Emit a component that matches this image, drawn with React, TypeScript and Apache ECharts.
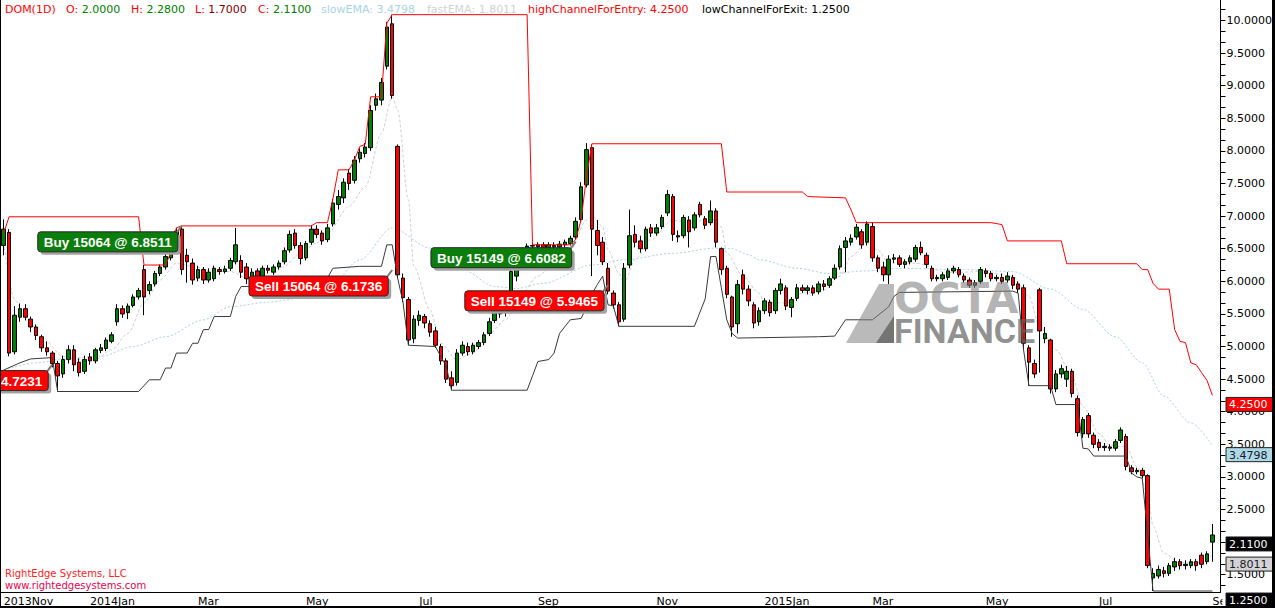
import React, { useEffect, useRef } from 'react';
import * as echarts from 'echarts';

const FONT = "'DejaVu Sans', Verdana, sans-serif";

// x axis: one category = two trading days
const slotCount = 226;
const monthLabels = ['2013Nov', '2014Jan', 'Mar', 'May', 'Jul', 'Sep', 'Nov', '2015Jan', 'Mar', 'May', 'Jul', 'Sep'];
const monthIndex = [0, 16, 36, 56, 77, 99, 121, 141, 161, 182, 203, 224];

// y axis tick marks (every 0.5, three steps each) and visible tick labels (2.0000 is hidden behind the close tag)
const yTickLabels = [1.5, 2, 2.5, 3, 3.5, 4, 4.5, 5, 5.5, 6, 6.5, 7, 7.5, 8, 8.5, 9, 9.5, 10];
const yHiddenLabels = [2];

// candles: [open, close, low, high]
const candles: number[][] = [
  [6.55, 6.80, 6.40, 6.95], [6.75, 4.90, 4.85, 6.80], [4.92, 5.48, 4.88, 5.62], [5.45, 5.58, 5.38, 5.66],
  [5.58, 5.45, 5.40, 5.65], [5.42, 5.30, 5.22, 5.46], [5.30, 5.17, 5.10, 5.34], [5.15, 4.98, 4.92, 5.18],
  [4.98, 4.92, 4.86, 5.08], [4.90, 4.74, 4.68, 4.93], [4.74, 4.55, 4.31, 4.78], [4.58, 4.80, 4.52, 4.86],
  [4.80, 4.95, 4.74, 5.02], [4.95, 4.72, 4.62, 5.02], [4.76, 4.60, 4.54, 4.82], [4.62, 4.80, 4.58, 4.86],
  [4.84, 4.78, 4.72, 4.90], [4.78, 4.95, 4.74, 4.98], [4.94, 4.98, 4.90, 5.04], [4.97, 5.10, 4.93, 5.14],
  [5.08, 5.18, 5.05, 5.22], [5.38, 5.58, 5.32, 5.65], [5.58, 5.50, 5.44, 5.63], [5.52, 5.62, 5.42, 5.66],
  [5.63, 5.76, 5.60, 5.80], [5.76, 5.86, 5.72, 5.90], [6.18, 5.76, 5.48, 6.25], [5.86, 5.95, 5.80, 6.00],
  [5.96, 6.12, 5.92, 6.16], [6.12, 6.22, 6.08, 6.26], [6.22, 6.38, 6.18, 6.42], [6.36, 6.50, 6.32, 6.55],
  [6.52, 6.77, 6.48, 6.82], [6.80, 6.18, 6.10, 6.85], [6.40, 6.30, 5.98, 6.50], [6.28, 6.02, 5.95, 6.35],
  [6.05, 6.18, 6.00, 6.24], [6.18, 6.02, 5.96, 6.22], [6.02, 6.14, 5.98, 6.20], [6.04, 6.20, 6.00, 6.24],
  [6.18, 6.15, 6.10, 6.22], [6.15, 6.19, 6.12, 6.24], [6.20, 6.32, 6.16, 6.36], [6.30, 6.56, 6.26, 6.82],
  [6.32, 6.14, 6.05, 6.40], [6.22, 6.04, 5.96, 6.28], [6.04, 6.14, 5.98, 6.20], [6.16, 6.06, 6.00, 6.20],
  [6.08, 6.20, 6.04, 6.24], [6.20, 6.17, 6.12, 6.25], [6.14, 6.22, 6.10, 6.26], [6.22, 6.28, 6.18, 6.32],
  [6.30, 6.47, 6.26, 6.52], [6.48, 6.72, 6.44, 6.78], [6.74, 6.55, 6.50, 6.80], [6.55, 6.35, 6.26, 6.60],
  [6.36, 6.58, 6.32, 6.62], [6.60, 6.80, 6.56, 6.86], [6.80, 6.72, 6.66, 6.86], [6.74, 6.62, 6.56, 6.78],
  [6.64, 6.82, 6.60, 6.88], [6.88, 7.20, 6.84, 7.26], [7.18, 7.30, 7.10, 7.40], [7.28, 7.52, 7.20, 7.58],
  [7.66, 7.50, 7.40, 7.72], [7.55, 7.86, 7.50, 7.92], [7.88, 7.98, 7.82, 8.04], [7.96, 8.06, 7.90, 8.12],
  [8.05, 8.62, 8.00, 8.70], [8.70, 8.80, 8.62, 8.88], [8.78, 9.05, 8.70, 9.12], [9.30, 9.90, 9.25, 9.98],
  [9.95, 8.85, 8.80, 10.09], [8.07, 6.10, 6.05, 8.10], [6.05, 5.75, 5.68, 6.12], [5.72, 5.10, 5.02, 5.76],
  [5.12, 5.42, 5.05, 5.48], [5.40, 5.48, 5.32, 5.55], [5.46, 5.36, 5.28, 5.50], [5.35, 5.22, 5.15, 5.40],
  [5.24, 5.02, 4.98, 5.30], [5.00, 4.78, 4.72, 5.04], [4.78, 4.50, 4.44, 4.82], [4.52, 4.40, 4.33, 4.62],
  [4.45, 4.90, 4.40, 4.96], [4.90, 5.02, 4.86, 5.08], [5.00, 4.92, 4.86, 5.06], [4.92, 5.02, 4.88, 5.06],
  [5.00, 5.06, 4.96, 5.10], [5.06, 5.18, 5.02, 5.22], [5.20, 5.38, 5.16, 5.44], [5.40, 5.54, 5.36, 5.60],
  [5.58, 5.50, 5.44, 5.62], [5.52, 5.58, 5.46, 5.65], [5.62, 6.15, 5.58, 6.20], [6.08, 6.26, 6.00, 6.32],
  [6.28, 6.42, 6.22, 6.48], [6.42, 6.54, 6.38, 6.58], [6.54, 6.55, 6.48, 6.60], [6.53, 6.56, 6.49, 6.60],
  [6.56, 6.52, 6.48, 6.60], [6.52, 6.56, 6.48, 6.60], [6.55, 6.53, 6.48, 6.60], [6.53, 6.57, 6.50, 6.62],
  [6.56, 6.60, 6.52, 6.64], [6.58, 6.66, 6.55, 6.70], [6.68, 6.92, 6.64, 6.98], [6.95, 7.45, 6.92, 7.52],
  [7.48, 8.02, 7.44, 8.12], [8.05, 6.80, 6.08, 8.10], [6.78, 6.55, 6.40, 6.94], [6.60, 6.30, 6.25, 6.68],
  [6.20, 5.85, 5.80, 6.28], [5.82, 5.64, 5.58, 5.86], [5.64, 5.38, 5.31, 5.68], [5.42, 6.20, 5.38, 6.28],
  [6.25, 6.70, 6.20, 7.10], [6.72, 6.60, 6.52, 6.86], [6.62, 6.50, 6.44, 6.70], [6.50, 6.80, 6.46, 6.84],
  [6.82, 6.74, 6.68, 6.88], [6.74, 6.82, 6.70, 6.88], [6.84, 6.98, 6.80, 7.02], [7.05, 7.33, 7.00, 7.40],
  [7.30, 6.72, 6.62, 7.34], [6.70, 6.68, 6.60, 6.78], [6.70, 6.98, 6.66, 7.02], [6.94, 6.76, 6.52, 7.00],
  [6.82, 7.02, 6.78, 7.06], [7.18, 7.02, 6.98, 7.22], [6.96, 6.86, 6.80, 7.00], [6.90, 7.08, 6.86, 7.24],
  [7.08, 6.60, 6.52, 7.12], [6.50, 6.18, 6.10, 6.52], [6.20, 5.80, 5.74, 6.24], [5.76, 5.30, 5.15, 5.78],
  [5.35, 5.95, 5.20, 6.02], [6.10, 5.88, 5.80, 6.18], [5.88, 5.70, 5.62, 5.94], [5.64, 5.36, 5.28, 5.68],
  [5.38, 5.55, 5.32, 5.60], [5.55, 5.70, 5.50, 5.74], [5.68, 5.52, 5.46, 5.72], [5.55, 5.86, 5.50, 5.90],
  [5.86, 5.96, 5.80, 6.04], [5.90, 5.62, 5.56, 5.94], [5.60, 5.72, 5.45, 5.76], [5.74, 5.90, 5.70, 5.96],
  [5.90, 5.86, 5.82, 5.95], [5.86, 5.90, 5.80, 5.94], [5.90, 5.82, 5.78, 5.94], [5.84, 5.96, 5.80, 6.00],
  [5.96, 5.92, 5.86, 6.02], [5.94, 6.04, 5.90, 6.08], [6.05, 6.20, 6.02, 6.26], [6.22, 6.50, 6.18, 6.55],
  [6.52, 6.62, 6.14, 6.68], [6.60, 6.66, 6.55, 6.72], [6.68, 6.83, 6.64, 6.88], [6.76, 6.56, 6.50, 6.80],
  [6.60, 6.88, 6.55, 6.92], [6.84, 6.36, 6.30, 6.90], [6.36, 6.20, 6.14, 6.40], [6.22, 6.10, 6.00, 6.30],
  [6.10, 6.34, 5.96, 6.40], [6.34, 6.36, 6.28, 6.42], [6.36, 6.26, 6.22, 6.40], [6.26, 6.30, 6.20, 6.34],
  [6.30, 6.36, 6.26, 6.40], [6.34, 6.52, 6.30, 6.56], [6.52, 6.44, 6.40, 6.61], [6.40, 6.26, 6.20, 6.44],
  [6.20, 6.04, 6.00, 6.24], [6.04, 6.06, 6.00, 6.10], [6.04, 6.10, 6.00, 6.14], [6.06, 6.16, 6.02, 6.20],
  [6.16, 6.20, 6.12, 6.24], [6.18, 6.10, 6.06, 6.22], [6.08, 6.02, 5.98, 6.12], [6.02, 5.94, 5.90, 6.06],
  [5.94, 5.98, 5.90, 6.02], [6.00, 6.18, 5.96, 6.22], [6.16, 6.12, 6.06, 6.20], [6.12, 6.04, 6.00, 6.16],
  [6.04, 6.06, 6.00, 6.10], [6.06, 6.00, 5.96, 6.12], [6.02, 6.08, 5.98, 6.14], [6.06, 5.94, 5.88, 6.10],
  [5.96, 5.88, 5.82, 6.00], [5.90, 5.05, 4.95, 5.95], [4.98, 4.76, 4.40, 5.02], [4.74, 4.58, 4.52, 4.80],
  [5.87, 5.24, 4.60, 5.90], [5.12, 5.20, 5.05, 5.30], [5.10, 4.35, 4.28, 5.12], [4.35, 4.58, 4.30, 4.64],
  [4.58, 4.66, 4.52, 4.72], [4.50, 4.62, 4.38, 4.70], [4.62, 4.28, 4.22, 4.66], [4.20, 3.68, 3.62, 4.25],
  [3.66, 3.88, 3.60, 3.92], [3.94, 3.66, 3.60, 3.98], [3.64, 3.50, 3.44, 3.68], [3.53, 3.45, 3.40, 3.58],
  [3.45, 3.47, 3.40, 3.52], [3.46, 3.44, 3.40, 3.50], [3.44, 3.54, 3.40, 3.58], [3.56, 3.72, 3.52, 3.76],
  [3.62, 3.16, 3.10, 3.66], [3.14, 3.08, 3.04, 3.18], [3.08, 3.10, 3.04, 3.14], [3.10, 3.02, 2.98, 3.14],
  [3.02, 1.64, 1.60, 3.04], [1.45, 1.52, 1.25, 1.60], [1.48, 1.58, 1.44, 1.64], [1.56, 1.52, 1.46, 1.62],
  [1.52, 1.64, 1.48, 1.68], [1.62, 1.70, 1.56, 1.76], [1.70, 1.64, 1.58, 1.74], [1.64, 1.66, 1.58, 1.72],
  [1.64, 1.70, 1.60, 1.74], [1.70, 1.64, 1.56, 1.74], [1.80, 1.66, 1.60, 1.84], [1.70, 1.82, 1.66, 1.86],
  [2.00, 2.11, 1.70, 2.28],
];

// channel breakpoints: [category index, value]
const highChannel: number[][] = [
  [0, 6.74], [1, 6.99], [25, 6.99], [26, 6.25], [30, 6.25], [31, 6.45], [32, 6.82], [33, 6.85], [57, 6.85],
  [58, 6.90], [60, 6.90], [61, 7.26], [62, 7.71], [64, 7.71], [65, 7.86], [66, 8.07], [67, 8.10], [68, 8.83],
  [70, 8.83], [71, 9.96], [72, 10.09], [97, 10.09], [98, 6.56], [105, 6.56], [106, 6.64], [107, 6.94],
  [108, 7.60], [109, 8.11], [133, 8.11], [134, 7.37], [148, 7.37], [149, 7.30], [156, 7.28], [157, 7.10],
  [158, 6.90], [183, 6.90], [185, 6.87], [186, 6.62], [196, 6.62], [197, 6.27], [210, 6.27], [211, 6.18],
  [212, 6.18], [213, 5.97], [214, 5.88], [216, 5.88], [217, 5.26], [218, 5.08], [219, 5.06], [220, 4.75],
  [221, 4.72], [222, 4.60], [223, 4.48], [224, 4.25],
];
const lowChannel: number[][] = [
  [0, 4.64], [3, 4.75], [5, 4.81], [9, 4.83], [10, 4.31], [25, 4.31], [27, 4.49], [29, 4.49], [30, 4.67],
  [31, 4.67], [32, 4.90], [34, 4.90], [35, 5.05], [36, 5.05], [37, 5.26], [38, 5.26], [39, 5.46], [42, 5.46],
  [43, 5.77], [44, 5.92], [55, 5.92], [56, 6.05], [60, 6.05], [61, 6.20], [66, 6.23], [70, 6.23], [71, 6.56],
  [72, 6.56], [73, 6.05], [74, 5.68], [75, 5.02], [80, 5.00], [81, 4.85], [82, 4.70], [83, 4.33], [97, 4.33],
  [98, 4.55], [99, 4.77], [101, 4.80], [102, 4.90], [103, 5.20], [105, 5.41], [107, 5.43], [108, 5.60],
  [109, 5.80], [110, 5.95], [111, 6.08], [112, 5.64], [113, 5.62], [114, 5.31], [128, 5.31], [130, 5.73],
  [131, 6.38], [132, 6.38], [133, 5.90], [134, 5.41], [135, 5.20], [136, 5.13], [151, 5.15], [154, 5.16],
  [156, 5.41], [161, 5.41], [164, 5.61], [165, 5.77], [166, 5.83], [187, 5.85], [188, 5.82], [189, 4.95],
  [190, 4.40], [194, 4.40], [195, 4.11], [199, 4.11], [200, 3.44], [201, 3.43], [202, 3.32], [208, 3.32],
  [209, 3.06], [210, 3.00], [211, 2.98], [213, 1.25], [224, 1.25],
];
const slowEMA: number[][] = [
  [0, 4.64], [6, 4.75], [12, 4.82], [18, 4.85], [24, 5.00], [30, 5.15], [37, 5.41], [42, 5.61], [49, 5.68],
  [55, 5.74], [60, 5.87], [66, 6.33], [72, 6.82], [79, 6.51], [85, 6.18], [91, 5.92], [95, 5.89], [100, 5.97],
  [109, 6.25], [115, 6.33], [124, 6.43], [132, 6.51], [135, 6.50], [138, 6.41], [140, 6.33], [147, 6.20],
  [153, 6.12], [160, 6.16], [166, 6.20], [178, 6.18], [187, 6.15], [194, 5.88], [200, 5.57], [206, 5.15],
  [211, 4.75], [215, 4.24], [220, 3.83], [224, 3.4798],
];
const fastEMA: number[][] = [
  [0, 6.60], [2, 5.72], [4, 5.46], [7, 5.15], [11, 4.85], [14, 4.80], [17, 4.80], [20, 4.95], [23, 5.20],
  [26, 5.67], [29, 6.02], [32, 6.28], [35, 6.23], [39, 6.15], [42, 6.15], [46, 6.02], [49, 6.05], [52, 6.23],
  [55, 6.43], [58, 6.59], [60, 6.74], [64, 7.15], [67, 7.45], [70, 8.27], [72, 8.83], [73, 8.63], [75, 7.25],
  [76, 6.23], [79, 5.56], [81, 5.05], [84, 4.80], [87, 4.90], [90, 5.20], [93, 5.41], [96, 5.82], [99, 6.08],
  [102, 6.28], [105, 6.48], [108, 6.94], [109, 7.00], [111, 6.84], [112, 6.48], [114, 6.13], [115, 5.97],
  [117, 6.33], [120, 6.64], [124, 6.94], [127, 6.89], [131, 6.97], [133, 6.84], [134, 6.43], [137, 6.08],
  [140, 5.82], [141, 5.67], [145, 5.67], [148, 5.82], [152, 5.87], [155, 6.08], [157, 6.38], [160, 6.59],
  [162, 6.48], [164, 6.28], [169, 6.28], [175, 6.13], [181, 6.15], [187, 6.08], [190, 5.77], [192, 5.30],
  [195, 4.95], [198, 4.54], [200, 4.08], [203, 3.67], [205, 3.49], [208, 3.46], [210, 3.16], [212, 2.75],
  [213, 2.24], [215, 1.83], [218, 1.68], [221, 1.68], [224, 1.8011],
];

// trades
const tradeIndex = [9, 33, 72, 106, 112];
const tradePrice = [4.7231, 6.8511, 6.1736, 6.6082, 5.9465];
const tradeText = ['4.7231', 'Buy 15064 @ 6.8511', 'Sell 15064 @ 6.1736', 'Buy 15149 @ 6.6082', 'Sell 15149 @ 5.9465'];
const tradeSide = ['sell', 'buy', 'sell', 'buy', 'sell'];

const last = (a: number[][]) => a[a.length - 1][1];

export default function App() {
  const ref = useRef<HTMLDivElement>(null);

  useEffect(() => {
    if (!ref.current) return;
    const chart = echarts.init(ref.current, null, { renderer: 'svg' });

    const categories = Array.from({ length: slotCount }, (_, i) => String(i));
    const labelAt = (i: number) => {
      const k = monthIndex.indexOf(i);
      return k >= 0 ? monthLabels[k] : '';
    };
    const yTicks: number[] = [yTickLabels[0] - 0.5 / 3];
    yTickLabels.forEach((v, k) => {
      yTicks.push(v);
      yTicks.push(v + 0.5 / 3);
      if (k < yTickLabels.length - 1) yTicks.push(v + 1 / 3);
    });
    const yShown = yTickLabels.filter((v) => !yHiddenLabels.includes(v));

    chart.setOption({
      animation: false,
      backgroundColor: '#ffffff',
      grid: { left: 1, right: 52, top: 0, bottom: 16, containLabel: false },
      xAxis: {
        type: 'category',
        data: categories,
        boundaryGap: true,
        axisLine: { lineStyle: { color: '#000', width: 1 } },
        axisTick: { inside: true, length: 5, lineStyle: { color: '#000' }, interval: (i: number) => monthIndex.includes(i) },
        axisLabel: {
          interval: (i: number) => monthIndex.includes(i),
          formatter: (v: string) => labelAt(Number(v)),
          align: 'left',
          margin: 4,
          color: '#000',
          fontSize: 11,
          fontFamily: FONT,
        },
        splitLine: { show: false },
      },
      yAxis: {
        type: 'value',
        position: 'right',
        min: 1.235,
        max: 10.315,
        axisLine: { show: true, lineStyle: { color: '#000' } },
        axisTick: { show: true, length: 5, customValues: yTicks, lineStyle: { color: '#000' } },
        axisLabel: {
          customValues: yShown,
          formatter: (v: number) => v.toFixed(4),
          margin: 6,
          color: '#000',
          fontSize: 11,
          fontFamily: FONT,
        },
        splitLine: { show: false },
      },
      series: [
        {
          type: 'line', name: 'slowEMA', data: slowEMA, symbol: 'none', smooth: 0.3, smoothMonotone: 'x',
          lineStyle: { color: '#a8d4e6', width: 1, type: [2, 2] }, z: 1, silent: true,
        },
        {
          type: 'line', name: 'fastEMA', data: fastEMA, symbol: 'none', smooth: 0.3, smoothMonotone: 'x',
          lineStyle: { color: '#cfcfcf', width: 1, type: [3, 2] }, z: 1, silent: true,
        },
        {
          type: 'candlestick', name: 'DOM', data: candles, barWidth: 4,
          itemStyle: { color: '#008000', color0: '#ff0000', borderColor: '#000', borderColor0: '#000', borderWidth: 1 },
          z: 2,
        },
        {
          type: 'line', name: 'highChannelForEntry', data: highChannel, symbol: 'none',
          lineStyle: { color: '#ff0000', width: 1 }, z: 3, silent: true,
        },
        {
          type: 'line', name: 'lowChannelForExit', data: lowChannel, symbol: 'none',
          lineStyle: { color: '#3a3a3a', width: 1 }, z: 3, silent: true,
        },
      ],
    });

    const toPx = (i: number, v: number) => chart.convertToPixel({ xAxisIndex: 0, yAxisIndex: 0 }, [i, v]) as number[];
    const canvas = document.createElement('canvas');
    const ctx = canvas.getContext('2d')!;
    const measure = (t: string, f: string) => { ctx.font = f; return ctx.measureText(t).width; };

    const els: any[] = [];
    const lastC = candles[candles.length - 1];
    const txt = `11px ${FONT}`;

    // header legend
    const header: { x: number; parts: [string, string][] }[] = [
      { x: 5, parts: [['DOM(1D)', '#ff0000']] },
      { x: 66, parts: [['O: ', '#ff0000'], [lastC[0].toFixed(4), '#008000']] },
      { x: 131, parts: [['H: ', '#ff0000'], [lastC[3].toFixed(4), '#008000']] },
      { x: 195, parts: [['L: ', '#ff0000'], [lastC[2].toFixed(4), '#800000']] },
      { x: 258, parts: [['C: ', '#ff0000'], [lastC[1].toFixed(4), '#008000']] },
      { x: 321, parts: [['slowEMA: ' + last(slowEMA).toFixed(4), '#a8d4e6']] },
      { x: 427, parts: [['fastEMA: ' + last(fastEMA).toFixed(4), '#d3d3d3']] },
      { x: 528, parts: [['highChannelForEntry: ' + last(highChannel).toFixed(4), '#ff0000']] },
      { x: 702, parts: [['lowChannelForExit: ' + last(lowChannel).toFixed(4), '#000000']] },
    ];
    header.forEach((h) => {
      let x = h.x;
      h.parts.forEach(([t, c]) => {
        els.push({ type: 'text', x, y: 9, z: 100, style: { text: t, font: txt, fill: c, verticalAlign: 'middle' } });
        x += measure(t, txt);
      });
    });

    // credits
    els.push({ type: 'text', x: 5, y: 573, z: 100, style: { text: 'RightEdge Systems, LLC', font: `10px ${FONT}`, fill: '#ff2020', verticalAlign: 'middle' } });
    els.push({ type: 'text', x: 5, y: 585, z: 100, style: { text: 'www.rightedgesystems.com', font: `10px ${FONT}`, fill: '#e8004c', verticalAlign: 'middle' } });

    // watermark
    els.push({ type: 'polygon', z: 90, shape: { points: [[846, 343], [879, 284], [894, 284], [894, 343]] }, style: { fill: 'rgba(130,130,130,0.55)' } });
    els.push({ type: 'polygon', z: 91, shape: { points: [[876, 343], [894, 316], [894, 343]] }, style: { fill: 'rgba(70,70,70,0.6)' } });
    els.push({ type: 'text', x: 894, y: 298, z: 92, style: { text: 'OCTA', font: `bold 42px ${FONT}`, fill: 'rgba(130,130,130,0.6)', verticalAlign: 'middle' } });
    els.push({ type: 'text', x: 894, y: 331, z: 92, style: { text: 'FINANCE', font: 'bold 34px Roboto, sans-serif', fill: 'rgba(95,95,95,0.7)', verticalAlign: 'middle' } });

    // trade labels
    const tf = 'bold 13.5px "Liberation Sans", Arial, sans-serif';
    tradeIndex.forEach((idx, k) => {
      const [x, y] = toPx(idx, tradePrice[k]);
      const R = x - 4;
      const T = y + 6;
      const H = 20;
      const tw = measure(tradeText[k], tf);
      const W = k === 0 ? R + 10 : tw + 12;
      const L = R - W;
      const fill = tradeSide[k] === 'buy' ? '#0a7d0a' : '#ff0000';
      els.push({ type: 'line', z: 100, shape: { x1: R - 2, y1: T + 2, x2: x, y2: y }, style: { stroke: '#777', lineWidth: 2 } });
      els.push({ type: 'rect', z: 100, shape: { x: L + 3, y: T + 3, width: W, height: H, r: 3 }, style: { fill: '#a3a3a3' } });
      els.push({ type: 'rect', z: 101, shape: { x: L, y: T, width: W, height: H, r: 3 }, style: { fill, stroke: '#2a2a2a', lineWidth: 1 } });
      els.push({ type: 'text', z: 102, x: R - 6, y: T + H / 2 + 0.5, style: { text: tradeText[k], font: tf, fill: '#ffffff', align: 'right', verticalAlign: 'middle' } });
    });

    // mask for the last month label clipped by the plot edge
    els.push({ type: 'rect', z: 99, shape: { x: 1222.5, y: 593, width: 5, height: 13 }, style: { fill: '#ffffff' } });

    // right value tags
    const tags: [number, string, string][] = [
      [last(highChannel), '#ff0000', '#ffffff'],
      [last(slowEMA), '#add8e6', '#1a1a2a'],
      [lastC[1], '#000000', '#ffffff'],
      [last(fastEMA), '#d3d3d3', '#1a1a2a'],
      [last(lowChannel), '#000000', '#ffffff'],
    ];
    tags.forEach(([v, bg, fg]) => {
      const y = toPx(0, v)[1];
      els.push({ type: 'rect', z: 100, shape: { x: 1226, y: y + 2, width: 47, height: 14 }, style: { fill: bg, stroke: '#222', lineWidth: 1 } });
      els.push({ type: 'text', z: 101, x: 1229, y: y + 9.5, style: { text: v.toFixed(4), font: txt, fill: fg, verticalAlign: 'middle' } });
    });

    // frame
    els.push({ type: 'rect', z: 110, shape: { x: 0, y: 0, width: 1, height: 608 }, style: { fill: '#000' } });
    els.push({ type: 'rect', z: 110, shape: { x: 1272, y: 0, width: 3, height: 608 }, style: { fill: '#000' } });
    els.push({ type: 'rect', z: 110, shape: { x: 0, y: 606, width: 1275, height: 2 }, style: { fill: '#000' } });

    chart.setOption({ graphic: els });

    return () => chart.dispose();
  }, []);

  return <div ref={ref} style={{ position: 'absolute', left: 0, top: 0, width: 1275, height: 608 }} />;
}
